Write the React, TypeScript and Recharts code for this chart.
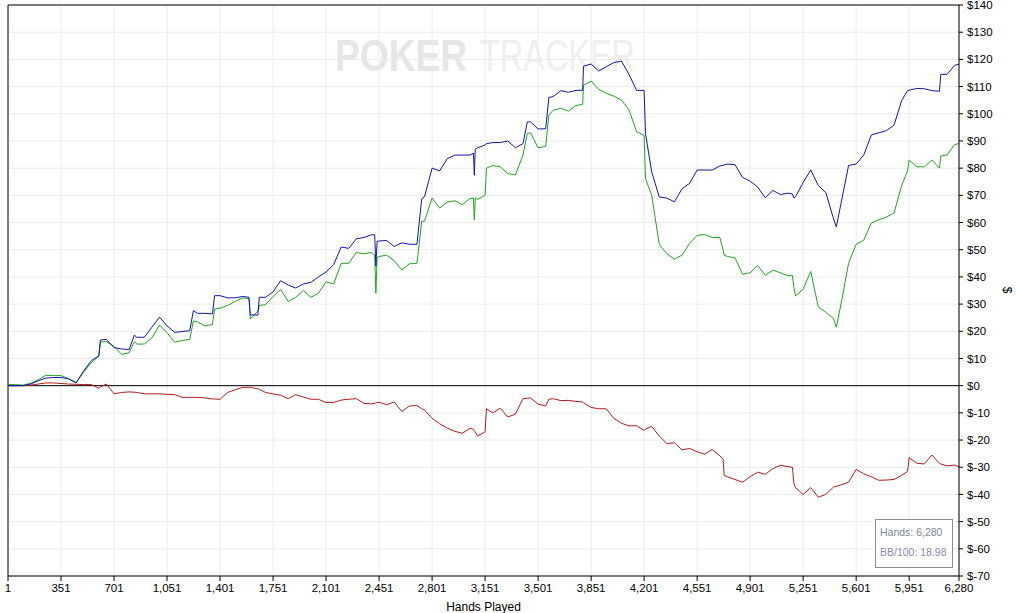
import React from 'react';
import { LineChart, Line, XAxis, YAxis, CartesianGrid, ReferenceLine, Label } from 'recharts';

// hands played (x positions of the samples)
const hands = [
  1, 51, 101, 151, 201, 251, 301, 351, 401, 451,
  501, 551, 601, 611, 651, 701, 751, 801, 835, 851, 901, 951,
  1001, 1051, 1101, 1151, 1201, 1225, 1251, 1301, 1351, 1365, 1401, 1451,
  1501, 1551, 1592, 1601, 1651, 1660, 1701, 1751, 1801, 1851, 1901, 1951,
  2001, 2051, 2101, 2151, 2201, 2251, 2301, 2351, 2401, 2422, 2430, 2438, 2451,
  2501, 2551, 2601, 2651, 2701, 2733, 2751, 2801, 2851, 2901, 2951,
  3001, 3051, 3074, 3080, 3086, 3101, 3151, 3160, 3201, 3251,
  3301, 3351, 3401, 3430, 3451, 3501, 3551, 3572, 3601, 3651, 3701, 3751,
  3795, 3801, 3851, 3901, 3951, 4001, 4051, 4101, 4151, 4201, 4210, 4251,
  4301, 4351, 4401, 4451, 4501, 4551, 4601, 4651, 4701, 4722, 4730, 4751,
  4801, 4851, 4901, 4951, 5001, 5051, 5101, 5151, 5180, 5190, 5201, 5251,
  5301, 5351, 5401, 5451, 5470, 5501, 5551, 5601, 5651, 5701,
  5751, 5801, 5851, 5901, 5940, 5951, 6001, 6051, 6101, 6151, 6160, 6201,
  6251, 6280,
];

// net won ($)
const netWon = [
  0, 0, 0, 0.6, 1.8, 2.8, 3.0, 3.0, 2.5, 1.0,
  5.5, 9.2, 11, 16.8, 17, 14, 13.5, 13.3, 18.6, 17.8, 17.8, 21.5,
  25.2, 22, 19.6, 19.9, 20.2, 27.6, 26.6, 26.6, 26.4, 33.1, 33.1, 32.3,
  32.3, 32.8, 32.5, 26, 26, 32.5, 32.5, 34.5, 38.6, 37, 35.9, 37.4,
  38, 40, 41.8, 44.5, 51, 50.5, 54, 54.5, 55.5, 55.5, 44, 53, 53.2,
  53.4, 51.2, 52.5, 52, 52, 68.8, 69.5, 80, 79, 83.5, 84.8,
  84.8, 84.8, 85.5, 77.4, 87, 87.5, 88.5, 89, 89.4, 89.4,
  90, 87.5, 89, 97, 97, 94.4, 94.5, 106, 106.3, 108.5, 107.9, 108.6,
  108.6, 117.5, 118.3, 115.7, 117.3, 118.8, 119.4, 114.5, 108.6, 108.6, 92.8, 78.6,
  69.4, 69, 67.6, 72.4, 74.4, 79.3, 79.3, 79.3, 80.8, 81, 81.2, 81.5,
  81.3, 76.6, 75.2, 73, 69.1, 71.8, 70.3, 70.8, 70.5, 69, 69.5, 74.7,
  79.3, 73.6, 71, 61.5, 58.4, 67, 81, 81.5, 84.8, 92.2,
  93, 93.8, 95.8, 104.8, 108.5, 108.7, 109.3, 109.2, 108.5, 108.3, 114.5, 114.5,
  117.8, 118.2,
];

// all-in adjusted ($)
const allInAdj = [
  0.4, 0.4, 0.2, 0.9, 2.2, 3.8, 3.7, 3.7, 2.6, 1.2,
  5, 8.5, 10.8, 16, 16.2, 14.5, 11.5, 12.1, 16.2, 15.3, 15.3, 17.5,
  22.3, 19.5, 16, 16.6, 17, 23.8, 23.5, 22, 22.5, 28.2, 28.5, 29.5,
  31, 32.3, 32, 24.5, 27.5, 29.5, 29.8, 32.8, 35.4, 31, 32.5, 35,
  32.5, 34, 38.2, 37.4, 45, 45, 49, 48.5, 49, 48, 34, 47, 47.5,
  48, 46, 42.5, 44.8, 45, 60.5, 60.5, 69, 65.3, 67.5, 68,
  66.6, 68.8, 69, 61, 69, 68.5, 70, 80, 81, 80.5,
  78, 77.5, 84.8, 92.8, 93, 87.5, 88, 99.5, 101.3, 102, 101, 103,
  103.5, 110.5, 112, 109, 107.5, 106.5, 105, 101.5, 93.4, 92.1, 76.2, 70,
  52, 48.5, 46.5, 48, 52.3, 55.3, 55.6, 54.5, 54.5, 50, 48, 47.5,
  47, 41, 41.5, 44.2, 40.6, 42.5, 41.5, 40.4, 40.5, 36, 33, 35.5,
  42, 29, 27, 24.7, 21.5, 30, 45, 52, 53.5, 59.8,
  61, 62, 63.5, 73.5, 79, 83, 80.5, 80.5, 83, 80, 84.5, 84.8,
  88.7, 89,
];

// non-showdown winnings ($)
const nonShowdown = [
  0, 0, 0, 0.2, 0.6, 1.0, 1.0, 0.8, 0.6, 0.5,
  0.4, 0.4, -1.0, -0.5, 0.6, -3, -2.5, -2.3, -2.4, -2.5, -3, -3,
  -3, -3.2, -3.3, -4.3, -4.3, -4.3, -4.3, -4.5, -4.9, -4.9, -5, -2.5,
  -1.5, -0.6, -0.6, -0.6, -1.2, -1.3, -2.5, -3, -3.5, -4.8, -3.3, -4.2,
  -5, -5, -6.2, -6.2, -5.3, -5, -4.8, -6.5, -6.7, -6.5, -6.3, -6.2, -6.1,
  -7, -6, -9.5, -7.5, -7.3, -8.5, -9, -12, -14, -15.6, -16.8,
  -17.5, -15.7, -16, -16.5, -17, -18.5, -17, -8.5, -10, -8.3,
  -11.5, -10.5, -4.8, -4.6, -4.5, -6.8, -7.5, -5, -4.8, -5.5, -5.4, -5.8,
  -6, -6.3, -8, -8.5, -8.5, -12, -13.8, -14.8, -14.7, -16.5, -16, -15,
  -18.5, -21.3, -21, -23.6, -23.1, -24.3, -25.2, -23.5, -25.8, -27, -33, -33.5,
  -34.5, -35.5, -33.5, -31.8, -32.6, -30.5, -29.3, -29.8, -30, -36, -37.5, -40,
  -37.5, -41, -40, -37.3, -37, -36.5, -35.5, -30.8, -32.4, -33.5,
  -34.8, -34.7, -34.5, -33, -31.5, -26.5, -28.5, -28.8, -25.5, -28.6, -28.8, -29.5,
  -29.2, -29.8,
];

const xTicks = [1, 351, 701, 1051, 1401, 1751, 2101, 2451, 2801, 3151, 3501, 3851, 4201, 4551, 4901, 5251, 5601, 5951, 6280];
const yTicks = [-70, -60, -50, -40, -30, -20, -10, 0, 10, 20, 30, 40, 50, 60, 70, 80, 90, 100, 110, 120, 130, 140];

const data = hands.map((h, i) => ({
  hands: h,
  net: netWon[i],
  adj: allInAdj[i],
  nsd: nonShowdown[i],
}));

const tickStyle = { fontFamily: '"Liberation Sans", Arial, sans-serif', fontSize: 11.5, fill: '#000' };

const fmtDollar = (v: number) => (v < 0 ? `$-${-v}` : `$${v}`);

export default function App() {
  return (
    <div style={{ position: 'fixed', left: 0, top: 0, width: 1016, height: 613, background: '#fff', overflow: 'hidden' }}>
      {/* watermark */}
      <svg width={1016} height={613} style={{ position: 'absolute', left: 0, top: 0 }}>
        <text x={335} y={71} fontFamily='"Liberation Sans", Arial, sans-serif' fontWeight="bold" fontSize={44} fill="#e6e6e6" textLength={132} lengthAdjust="spacingAndGlyphs">POKER</text>
        <text x={480} y={71} fontFamily='"Liberation Sans", Arial, sans-serif' fontSize={44} fill="#efefef" textLength={155} lengthAdjust="spacingAndGlyphs">TRACKER</text>
      </svg>
      <div style={{ position: 'absolute', left: 0, top: 0 }}>
        <LineChart width={1016} height={613} data={data} margin={{ top: 5, right: 0, left: 8, bottom: 0 }}>
          <CartesianGrid stroke="#ebebeb" strokeWidth={1} />
          <XAxis
            dataKey="hands"
            type="number"
            domain={[1, 6280]}
            ticks={xTicks}
            interval={0}
            height={37}
            tickFormatter={(v: number) => v.toLocaleString('en-US')}
            tick={tickStyle}
            tickSize={5}
            tickMargin={3}
            axisLine={{ stroke: '#000' }}
            tickLine={{ stroke: '#000' }}
          >
            <Label value="Hands Played" position="insideBottom" offset={2} style={{ ...tickStyle, fontSize: 12 }} />
          </XAxis>
          <YAxis
            orientation="right"
            type="number"
            domain={[-70, 140]}
            ticks={yTicks}
            interval={0}
            width={57}
            tickFormatter={fmtDollar}
            tick={{ ...tickStyle, textAnchor: 'start' }}
            tickSize={4}
            tickMargin={4}
            axisLine={{ stroke: '#000' }}
            tickLine={{ stroke: '#000' }}
          />
          <ReferenceLine y={140} stroke="#000" strokeWidth={1} />
          <ReferenceLine x={1} stroke="#000" strokeWidth={1} />
          <ReferenceLine y={0} stroke="#000" strokeWidth={1} />
          <Line type="linear" dataKey="nsd" stroke="#b41c1c" strokeWidth={1} dot={false} isAnimationActive={false} />
          <Line type="linear" dataKey="adj" stroke="#1fa51f" strokeWidth={1} dot={false} isAnimationActive={false} />
          <Line type="linear" dataKey="net" stroke="#1414b0" strokeWidth={1} dot={false} isAnimationActive={false} />
        </LineChart>
      </div>
      <div
        style={{
          position: 'absolute',
          left: 1007,
          top: 290,
          transform: 'translate(-50%, -50%) rotate(90deg)',
          fontFamily: '"Liberation Sans", Arial, sans-serif',
          fontSize: 12,
          color: '#000',
        }}
      >
        $
      </div>
      <div
        style={{
          position: 'absolute',
          left: 875,
          top: 519,
          width: 78,
          height: 49,
          border: '1px solid #8c8c8c',
          background: '#fff',
          fontFamily: '"Liberation Sans", Arial, sans-serif',
          fontSize: 10.5,
          lineHeight: '20px',
          padding: '2px 0 0 4px',
          boxSizing: 'border-box',
          whiteSpace: 'nowrap',
        }}
      >
        <div style={{ color: '#7d8a96' }}>Hands: 6,280</div>
        <div style={{ color: '#8a8aa6' }}>BB/100: 18.98</div>
      </div>
    </div>
  );
}
